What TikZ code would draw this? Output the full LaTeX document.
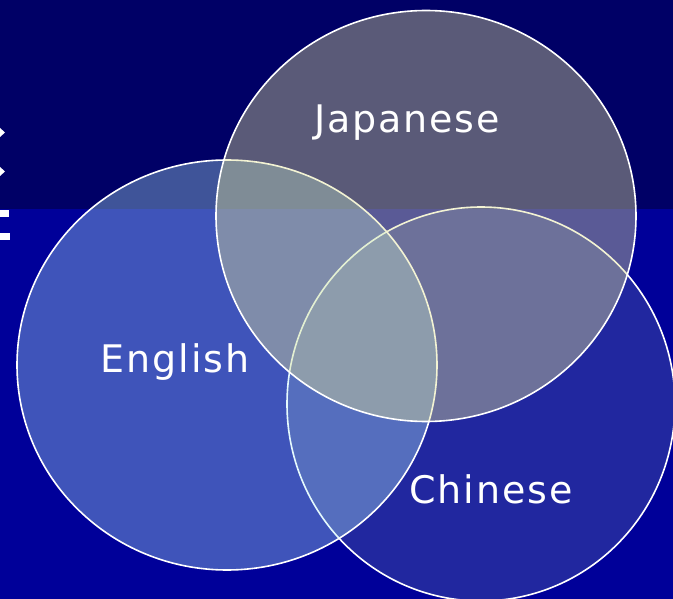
\documentclass[tikz,border=0pt]{standalone}
\usepackage{fontspec}
\newfontfamily\vennfont[LetterSpace=5]{DejaVu Sans}
\usetikzlibrary{positioning,shapes.geometric}
\definecolor{slidetop}{RGB}{0,0,102}
\definecolor{slidelow}{RGB}{0,0,153}
\definecolor{engfill}{RGB}{183,243,250}
\definecolor{chifill}{RGB}{97,114,173}
\definecolor{japfill}{RGB}{225,225,147}
\tikzset{
  venn/.style={ellipse, draw=white, line width=1.6pt, inner sep=0pt},
  vennlabel/.style={text=white, anchor=base, font=\vennfont\fontsize{38}{44}\selectfont}
}

\begin{document}
\begin{tikzpicture}[x=1pt,y=-1pt]
  \useasboundingbox (0,0) rectangle (673,599);
  \clip (0,0) rectangle (673,599);
  \fill [slidetop] (0,0) rectangle (673,209);
  \fill [slidelow] (0,209) rectangle (673,599);
  % bits of the slide title, cut off at the left edge
  \fill [white] (0,128) -- (5,132.5) -- (0,137) -- cycle;
  \fill [white] (0,167) -- (5,171.5) -- (0,176) -- cycle;
  \fill [white] (0,210) rectangle (9,217);
  \fill [white] (0,233) rectangle (10,240);
  % the three circles
  \node [venn, fill=chifill, fill opacity=0.35, minimum width=388pt, minimum height=394pt] (chinese) at (481,404) {};
  \node [venn, fill=engfill, fill opacity=0.35, minimum width=420pt, minimum height=410pt] (english) at (227,365) {};
  \node [venn, fill=japfill, fill opacity=0.4, minimum width=420pt, minimum height=411pt] (japanese) at (426,216) {};
  % labels
  \node [vennlabel] (japlabel) at (407,133) {Japanese};
  \node [vennlabel] (englabel) at (175,372) {English};
  \node [vennlabel] (chilabel) at (491,503) {Chinese};
\end{tikzpicture}
\end{document}
